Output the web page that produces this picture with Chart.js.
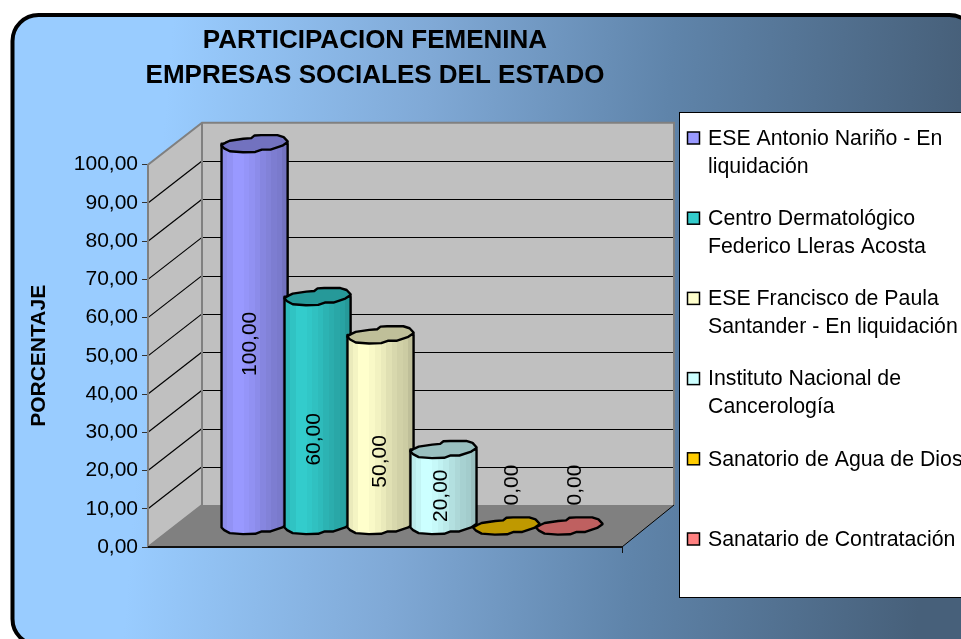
<!DOCTYPE html>
<html><head><meta charset="utf-8">
<style>html,body{margin:0;padding:0;background:#fff;overflow:hidden}canvas{display:block}</style>
<script src="https://cdn.jsdelivr.net/npm/chart.js@4"></script></head>
<body><canvas id="c" width="961" height="639"></canvas>
<script>
const seriesNames = ['ESE Antonio Nariño - En liquidación','Centro Dermatológico Federico Lleras Acosta','ESE Francisco de Paula Santander - En liquidación','Instituto Nacional de Cancerología','Sanatorio de Agua de Dios','Sanatario de Contratación'];
const seriesValues = [100,60,50,20,0,0];
const seriesColors = ['#9999FF','#33CCCC','#FFFFCC','#CCFFFF','#FFCC00','#FF8080'];
const legendLines = [['ESE Antonio Nariño - En','liquidación'],['Centro Dermatológico','Federico Lleras Acosta'],['ESE Francisco de Paula','Santander - En liquidación'],['Instituto Nacional de','Cancerología'],['Sanatorio de Agua de Dios'],['Sanatario de Contratación']];
const titleLines = ['PARTICIPACION FEMENINA','EMPRESAS SOCIALES DEL ESTADO'];
const yAxisTitle = 'PORCENTAJE';
const categories = [''];
const fmt = v => v.toFixed(2).replace('.', ',');

// 3D look
const DX = 54, DY = 42;
const labelNudge = [-12, 7, 10, -13, -62, -62];
const labelShiftX = [-31, -30, -27, -29, -21, -21];
const capTop = [[-1,.04],[-.88,-.03],[-.75,-.09],[-.34,-.15],[-.1,-.17],[0,-.25],[.2,-.26],[.69,-.26],[.88,-.2],[1,-.07]];
const capBottom = [[1,-.05],[.84,.06],[.48,.18],[.22,.18],[.02,.25],[-.35,.26],[-.75,.23],[-.92,.14],[-1,.06]];
function shade(hex,k){const n=parseInt(hex.slice(1),16);return `rgb(${(n>>16&255)*k|0},${(n>>8&255)*k|0},${(n&255)*k|0})`;}

const threeD = {
  id:'threeD',
  afterLayout(chart){ chart.titleBlock.left = 128; chart.titleBlock.right = 622; },
  beforeDraw(chart){
    const c=chart.ctx,W=chart.width,H=chart.height;
    c.save();
    c.fillStyle='#fff';c.fillRect(0,0,W,H);
    const g=c.createLinearGradient(0,0,W,H*.12);
    g.addColorStop(0,'#99CCFF');g.addColorStop(.18,'#99CCFF');g.addColorStop(.45,'#80A9D6');g.addColorStop(.7,'#5F84AA');g.addColorStop(1,'#47607A');
    c.beginPath();c.roundRect(12.5,15,963,630,26);
    c.fillStyle=g;c.fill();
    c.strokeStyle='#000';c.lineWidth=4;c.stroke();
    c.restore();
  },
  beforeDatasetsDraw(chart){
    const c=chart.ctx,y=chart.scales.y,a=chart.chartArea;
    const L=Math.round(a.left),R=Math.round(a.right),T=a.top,B=a.bottom;
    const WR=R+DX-2;
    c.save();
    c.fillStyle='#C0C0C0';
    c.beginPath();c.moveTo(L,T);c.lineTo(L+DX,T-DY);c.lineTo(L+DX,B-DY);c.lineTo(L,B);c.closePath();c.fill();
    c.fillRect(L+DX,T-DY,WR-L-DX,B-T);
    c.fillStyle='#808080';
    c.beginPath();c.moveTo(L,B);c.lineTo(L+DX,B-DY);c.lineTo(WR,B-DY);c.lineTo(R,B);c.closePath();c.fill();
    y.ticks.forEach(t=>{
      const p=y.getPixelForValue(t.value);
      if(t.value===0||t.value===100)return;
      const q=Math.round(p-DY)+.5;
      c.strokeStyle='#000';c.lineWidth=1.2;
      c.beginPath();c.moveTo(L,p);c.lineTo(L+DX,p-DY);c.stroke();
      c.beginPath();c.moveTo(L+DX,q);c.lineTo(WR,q);c.stroke();
    });
    c.strokeStyle='#808080';c.lineWidth=2;
    c.beginPath();c.moveTo(L,B);c.lineTo(L,T);c.lineTo(L+DX,T-DY);c.lineTo(WR,T-DY);c.lineTo(WR,B-DY);
    c.moveTo(L+DX,T-DY);c.lineTo(L+DX,B-DY);c.lineTo(L,B);c.stroke();
    c.strokeStyle='#000';c.lineWidth=1;
    c.beginPath();c.moveTo(R,B);c.lineTo(WR,B-DY);c.stroke();
    c.lineWidth=2;c.strokeStyle='#111';
    c.beginPath();c.moveTo(L,B);c.lineTo(R,B);c.stroke();
    c.lineWidth=1;c.beginPath();c.moveTo(R+.5,B);c.lineTo(R+.5,B+6);c.stroke();
    // cylinders, left to right
    chart.data.datasets.forEach((ds,i)=>{
      const el=chart.getDatasetMeta(i).data[0],col=seriesColors[i];
      const cx=el.x+DX/2,hw=el.width/2,top=el.y-DY/2,base=el.base-DY/2;
      const H=hw;
      if(top<base-1){
        const g=c.createLinearGradient(cx-hw,0,cx+hw,0);
        const profile=[.92,.96,1,1,.98,.95,.92,.88,.85,.82,.8,.75];
        profile.forEach((k,j)=>{
          g.addColorStop(j/profile.length,shade(col,k));
          g.addColorStop((j+1)/profile.length,shade(col,k));
        });
        c.beginPath();
        c.moveTo(cx-hw,top);
        [...capBottom].reverse().forEach(p=>c.lineTo(cx+p[0]*hw,base+p[1]*H));
        c.lineTo(cx+hw,top);c.closePath();
        c.fillStyle=g;c.fill();
        c.lineWidth=2.4;c.strokeStyle='#000';c.lineJoin='round';c.stroke();
      }
      c.beginPath();
      capTop.forEach((p,j)=>{const X=cx+p[0]*hw,Y=top+p[1]*H;j?c.lineTo(X,Y):c.moveTo(X,Y);});
      capBottom.forEach(p=>c.lineTo(cx+p[0]*hw,top+p[1]*H));
      c.closePath();
      c.fillStyle=shade(col,.75);c.fill();
      c.lineWidth=2.4;c.strokeStyle='#000';c.lineJoin='round';c.stroke();
    });
    c.restore();
    return false;
  },
  afterDraw(chart){
    const c=chart.ctx,y=chart.scales.y;
    c.save();
    // value labels
    c.fillStyle='#000';c.font='21px "Liberation Sans"';c.textAlign='center';c.textBaseline='middle';
    chart.data.datasets.forEach((ds,i)=>{
      const el=chart.getDatasetMeta(i).data[0];
      const cx=el.x+DX/2+labelShiftX[i]+27;
      const my=y.getPixelForValue(ds.data[0]/2)+labelNudge[i];
      c.save();c.translate(cx,my);c.rotate(-Math.PI/2);c.fillText(fmt(ds.data[0]),0,0);c.restore();
    });
    // legend
    const lx=679.5,ly=112.5;
    c.fillStyle='#fff';c.strokeStyle='#000';c.lineWidth=1;
    c.fillRect(lx,ly,300,485);c.strokeRect(lx,ly,300,485);
    c.textAlign='left';
    legendLines.forEach((lines,i)=>{
      const iy=138+i*80.2;
      c.fillStyle=seriesColors[i];c.fillRect(687.5,iy-6,12,12);
      c.strokeStyle='#000';c.lineWidth=1.5;c.strokeRect(687.5,iy-6,12,12);
      c.fillStyle='#000';c.font='21.3px "Liberation Sans"';
      lines.forEach((t,j)=>c.fillText(t,708,iy+1+j*28));
    });
    c.restore();
  }
};

new Chart(document.getElementById('c'),{
  type:'bar',
  data:{labels:categories,datasets:seriesNames.map((n,i)=>({label:n,data:[seriesValues[i]],backgroundColor:seriesColors[i]}))},
  options:{
    responsive:false,animation:false,
    layout:{padding:{left:14,right:339,top:23,bottom:84}},
    datasets:{bar:{categoryPercentage:.797,barPercentage:1.05}},
    scales:{
      x:{display:true,ticks:{display:false},grid:{display:false},border:{display:false}},
      y:{min:0,max:100,
        afterFit(s){s.width=134;},
        ticks:{stepSize:10,color:'#000',font:{family:'"Liberation Sans"',size:21},padding:4,callback:v=>fmt(v)},
        grid:{drawOnChartArea:false,drawTicks:true,tickLength:6,color:'#333'},
        border:{display:false},
        title:{display:true,text:yAxisTitle,color:'#000',font:{family:'"Liberation Sans"',size:21,weight:'bold'},padding:{top:13,bottom:0}}
      }
    },
    plugins:{
      legend:{display:false},tooltip:{enabled:false},
      title:{display:true,text:titleLines,color:'#000',font:{family:'"Liberation Sans"',size:26,weight:'bold',lineHeight:1.35},padding:{top:0,bottom:71.5}}
    }
  },
  plugins:[threeD]
});
</script></body></html>
